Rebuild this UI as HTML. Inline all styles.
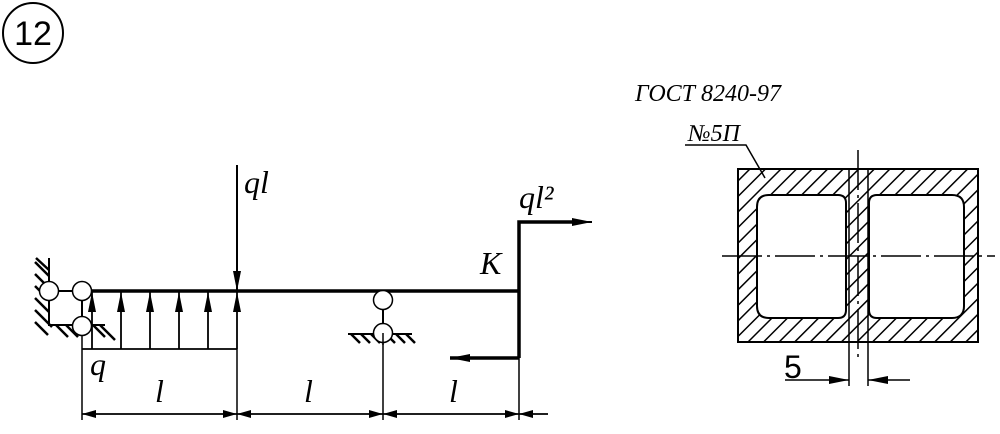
<!DOCTYPE html>
<html><head><style>body{margin:0;background:#fff}svg{display:block}text{font-family:"Liberation Serif",serif;font-style:italic}</style></head><body>
<svg width="1000" height="434" viewBox="0 0 1000 434" xmlns="http://www.w3.org/2000/svg">
<defs>
<pattern id="h" width="11" height="11" patternUnits="userSpaceOnUse" patternTransform="rotate(45)"><line x1="0" y1="0" x2="0" y2="11" stroke="#000" stroke-width="3"/></pattern>
<marker id="a" markerWidth="14" markerHeight="8" refX="14" refY="4" orient="auto" markerUnits="userSpaceOnUse"><path d="M0,0 L14,4 L0,8z" fill="#000"/></marker>
<marker id="b" markerWidth="20" markerHeight="8" refX="20" refY="4" orient="auto" markerUnits="userSpaceOnUse"><path d="M0,0 L20,4 L0,8z" fill="#000"/></marker>
</defs>
<circle cx="33" cy="33" r="30" fill="none" stroke="#000" stroke-width="2"/>
<text x="33" y="45" font-size="34" text-anchor="middle" style="font-family:'Liberation Sans',sans-serif;font-style:normal">12</text>
<g stroke="#000" fill="none">
<path d="M49,258 V325 H105" stroke-width="2"/>
<g stroke-width="2.5">
<line x1="35" y1="262" x2="49" y2="276"/><line x1="35" y1="274" x2="49" y2="288"/><line x1="35" y1="286" x2="49" y2="300"/><line x1="35" y1="298" x2="49" y2="312"/><line x1="35" y1="310" x2="52" y2="327"/><line x1="35" y1="322" x2="48" y2="335"/>
<line x1="56" y1="325" x2="68" y2="337"/><line x1="66" y1="325" x2="78" y2="337"/><line x1="93" y1="325" x2="105" y2="337"/><line x1="100" y1="325" x2="115" y2="340"/>
<line x1="36" y1="258" x2="49" y2="270"/>
<line x1="351" y1="334" x2="360" y2="343"/><line x1="361" y1="334" x2="370" y2="343"/><line x1="371" y1="334" x2="380" y2="343"/><line x1="386" y1="334" x2="395" y2="343"/><line x1="396" y1="334" x2="405" y2="343"/><line x1="406" y1="334" x2="415" y2="343"/>
</g>
<line x1="348" y1="334" x2="412" y2="334" stroke-width="2"/>
<line x1="49" y1="291" x2="82" y2="291" stroke-width="2"/>
<line x1="82" y1="291" x2="82" y2="326" stroke-width="2"/>
<line x1="90" y1="291" x2="520" y2="291" stroke-width="3.5"/>
<path d="M519,358 V222 H575" stroke-width="3.5"/>
<line x1="570" y1="222" x2="592" y2="222" stroke-width="2" marker-end="url(#b)"/>
<line x1="519" y1="358" x2="450" y2="358" stroke-width="3.5" marker-end="url(#b)"/>
<line x1="237" y1="165" x2="237" y2="291" stroke-width="2" marker-end="url(#b)"/>
<line x1="82" y1="349" x2="237" y2="349" stroke-width="1.8"/>
<g stroke-width="1.8" marker-end="url(#b)">
<line x1="92" y1="349" x2="92" y2="292"/><line x1="121" y1="349" x2="121" y2="292"/><line x1="150" y1="349" x2="150" y2="292"/><line x1="179" y1="349" x2="179" y2="292"/><line x1="208" y1="349" x2="208" y2="292"/><line x1="237" y1="349" x2="237" y2="292"/>
</g>
<g stroke-width="1.5">
<line x1="82" y1="326" x2="82" y2="420"/><line x1="237" y1="349" x2="237" y2="420"/><line x1="383" y1="333" x2="383" y2="420"/><line x1="519" y1="358" x2="519" y2="420"/>
<line x1="82" y1="414" x2="548" y2="414"/>
</g>
<g stroke-width="1.5" marker-end="url(#a)">
<line x1="160" y1="414" x2="82" y2="414"/><line x1="160" y1="414" x2="237" y2="414"/><line x1="310" y1="414" x2="237" y2="414"/><line x1="310" y1="414" x2="383" y2="414"/><line x1="450" y1="414" x2="383" y2="414"/><line x1="450" y1="414" x2="519" y2="414"/><line x1="548" y1="414" x2="519" y2="414"/>
</g>
<line x1="383" y1="300" x2="383" y2="333" stroke-width="2"/>
</g>
<g fill="#fff" stroke="#000" stroke-width="1.5">
<circle cx="49" cy="291" r="9.5"/><circle cx="82" cy="291" r="9.5"/><circle cx="82" cy="326" r="9.5"/>
<circle cx="383" cy="300" r="9.5"/><circle cx="383" cy="333" r="9.5"/>
</g>
<line x1="383" y1="333" x2="383" y2="345" stroke="#000" stroke-width="1.5"/>
<g font-size="32">
<text x="244" y="193">ql</text>
<text x="519" y="208">ql²</text>
<text x="480" y="274">K</text>
<text x="90" y="375">q</text>
<text x="155" y="402">l</text>
<text x="304" y="402">l</text>
<text x="449" y="402">l</text>
</g>
<text x="635" y="101" font-size="24">ГОСТ 8240-97</text>
<text x="688" y="141" font-size="24">№5П</text>
<path d="M685,145 H746 L765,178" stroke="#000" stroke-width="1.5" fill="none"/>
<path fill="url(#h)" fill-rule="evenodd" stroke="#000" stroke-width="2" d="M738,169 H978 V342 H738Z M769,195 H838 Q846,195 846,203 V310 Q846,318 838,318 H769 Q757,318 757,306 V207 Q757,195 769,195Z M877,195 H952 Q964,195 964,207 V306 Q964,318 952,318 H877 Q869,318 869,310 V203 Q869,195 877,195Z"/>
<line x1="849" y1="169" x2="849" y2="342" stroke="#000" stroke-width="1.5"/>
<line x1="868" y1="169" x2="868" y2="342" stroke="#000" stroke-width="1.5"/>
<g stroke="#000" stroke-width="1.5" fill="none">
<line x1="722" y1="256" x2="995" y2="256" stroke-dasharray="40,5,3,5"/>
<line x1="858" y1="150" x2="858" y2="362" stroke-dasharray="40,5,3,5"/>
<line x1="849" y1="342" x2="849" y2="386"/><line x1="868" y1="342" x2="868" y2="386"/>
<line x1="785" y1="380" x2="849" y2="380" marker-end="url(#b)"/>
<line x1="910" y1="380" x2="868" y2="380" marker-end="url(#b)"/>
</g>
<text x="784" y="378" font-size="32" style="font-family:'Liberation Sans',sans-serif;font-style:normal">5</text>
</svg>
</body></html>
